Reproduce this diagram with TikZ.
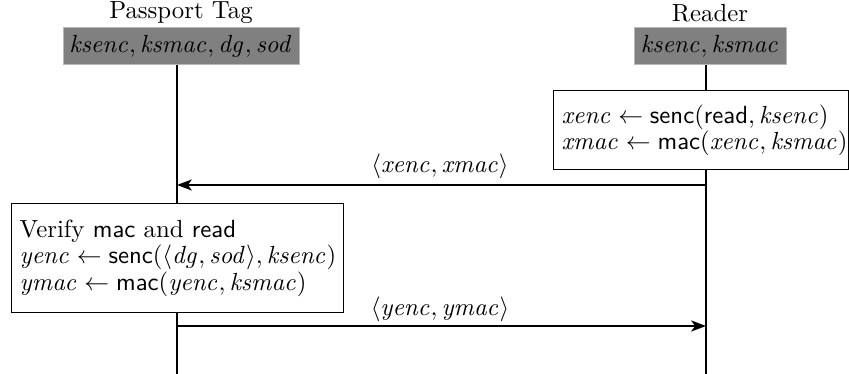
\documentclass[tikz,border=0pt]{standalone}
\usetikzlibrary{arrows.meta}
\def\u{0.4033pt}
\newcommand{\fn}[1]{\textsf{#1}}
\newcommand{\va}[1]{\mathit{#1}}
\begin{document}
\begin{tikzpicture}[x=\u,y=-\u,
  party/.style={inner sep=0pt, font=\normalsize},
  keybox/.style={fill=gray, draw=gray!55, line width=0.4pt, inner xsep=0pt, inner ysep=0pt, minimum height=37*\u},
  lifeline/.style={line width=0.85pt},
  actbox/.style={draw, line width=0.6pt, anchor=north west, align=left, inner xsep=8*\u, inner ysep=0pt, font=\fontsize{10}{10.8}\selectfont},
  msg/.style={line width=0.6pt, -{Stealth[length=6pt,width=4.5pt,inset=1.6pt]}},
  msglabel/.style={inner sep=0pt, anchor=base}
]
\useasboundingbox (0,0) rectangle (849,374);
% parties
\node[party] (tagname) at (181,13) {Passport Tag};
\node[party] (readname) at (710,13) {Reader};
\node[keybox, minimum width=236*\u] (tagkeys) at (181,46.5) {$\va{ksenc}, \va{ksmac}, \va{dg}, \va{sod}$};
\node[keybox, minimum width=152*\u] (readkeys) at (710,46.5) {$\va{ksenc}, \va{ksmac}$};
% lifeline ends
\coordinate (tagend) at (177,374);
\coordinate (readend) at (706,374);
\coordinate (tagtop) at (177,65);
\coordinate (readtop) at (706,65);
\draw[lifeline] (tagtop) -- (tagend);
\draw[lifeline] (readtop) -- (readend);
% reader action
\node[actbox, fill=white, minimum width=295*\u, minimum height=79*\u, text width=279*\u] (ract) at (553,90)
  {\mbox{$\va{xenc} \leftarrow \fn{senc}(\fn{read}, \va{ksenc})$}\\
   \mbox{$\va{xmac} \leftarrow \fn{mac}(\va{xenc}, \va{ksmac})$}};
% message 1
\coordinate (m1s) at (706,185);
\coordinate (m1e) at (177,185);
\draw[msg] (m1s) -- (m1e);
\node[msglabel] (m1l) at (440,173) {$\langle \va{xenc}, \va{xmac}\rangle$};
% tag action
\node[actbox, fill=white, minimum width=332*\u, minimum height=109*\u, text width=316*\u] (tact) at (11,203)
  {\mbox{Verify \fn{mac} and \fn{read}}\\
   \mbox{$\va{yenc} \leftarrow \fn{senc}(\langle \va{dg}, \va{sod}\rangle, \va{ksenc})$}\\
   \mbox{$\va{ymac} \leftarrow \fn{mac}(\va{yenc}, \va{ksmac})$}};
% message 2
\coordinate (m2s) at (177,326);
\coordinate (m2e) at (706,326);
\draw[msg] (m2s) -- (m2e);
\node[msglabel] (m2l) at (440,316) {$\langle \va{yenc}, \va{ymac}\rangle$};
\end{tikzpicture}
\end{document}
